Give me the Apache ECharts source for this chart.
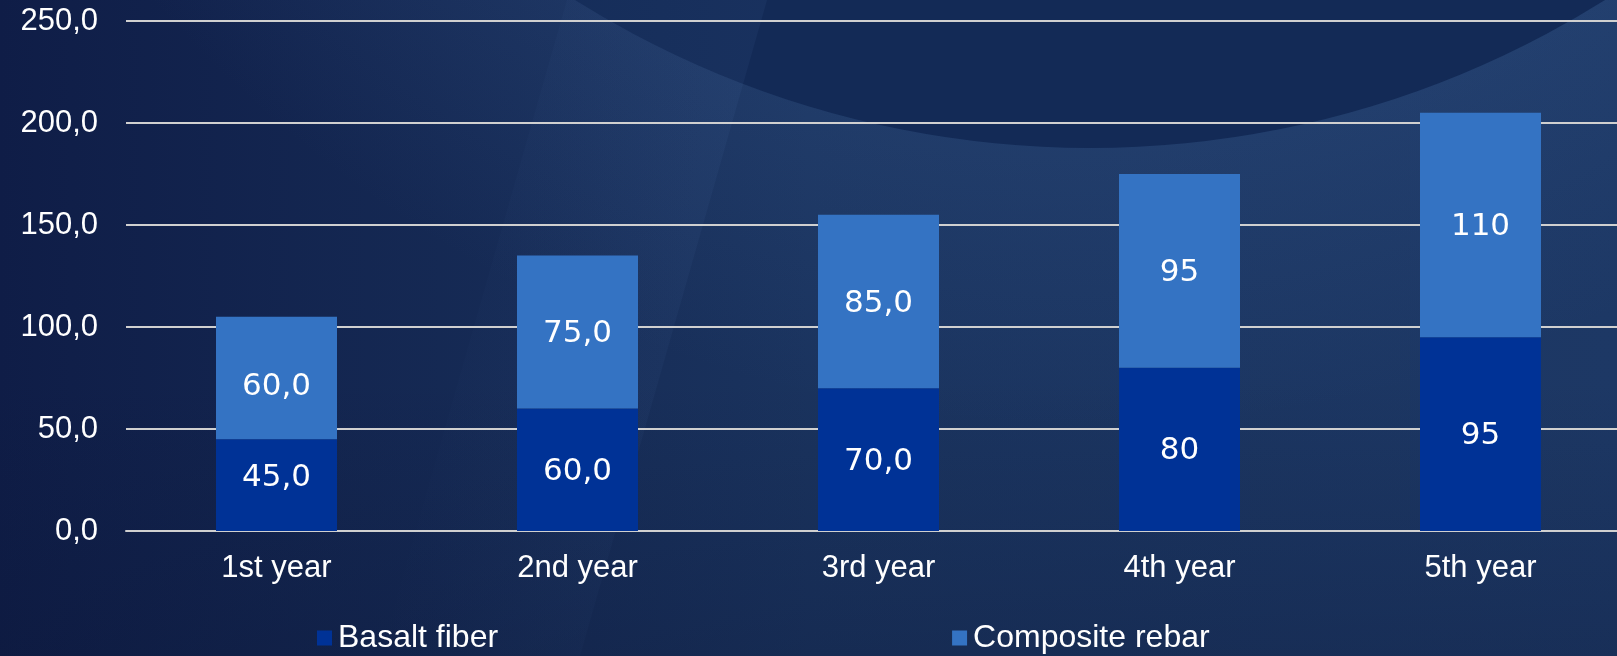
<!DOCTYPE html>
<html>
<head>
<meta charset="utf-8">
<script src="https://cdn.jsdelivr.net/npm/echarts@6/dist/echarts.min.js"></script>
<style>
html,body{margin:0;padding:0;background:#14294f;}
#chart{width:1617px;height:656px;}
</style>
</head>
<body>
<div id="chart"></div>
<script>
const categories = ["1st year", "2nd year", "3rd year", "4th year", "5th year"];
const basaltValues = [45, 60, 70, 80, 95];
const compositeValues = [60, 75, 85, 95, 110];
const basaltLabels = ["45,0", "60,0", "70,0", "80", "95"];
const compositeLabels = ["60,0", "75,0", "85,0", "95", "110"];
const seriesNames = ["Basalt fiber", "Composite rebar"];

const chart = echarts.init(document.getElementById('chart'), null, {renderer: 'canvas'});

const labelStyle = {
  show: true,
  position: 'inside',
  color: '#ffffff',
  fontFamily: 'DejaVu Sans',
  fontSize: 31,
  offset: [0, 2]
};

// the first column's labels sit slightly off-centre in the original
function buildData(values, firstOffsetY) {
  return values.map((v, i) => i === 0
    ? {value: v, label: {offset: [0, firstOffsetY]}}
    : v);
}

chart.setOption({
  animation: false,
  backgroundColor: {
    type: 'linear', x: 0, y: 0, x2: 1, y2: 0,
    colorStops: [
      {offset: 0, color: '#0f1d47'},
      {offset: 0.5, color: '#1a335e'},
      {offset: 1, color: '#1d3865'}
    ]
  },
  graphic: [
    {
      type: 'circle', z: -100, silent: true,
      shape: {cx: 1090, cy: -822, r: 1250},
      style: {
        fill: {
          type: 'radial', x: 0.5, y: 0.5, r: 0.5,
          colorStops: [
            {offset: 0, color: 'rgba(70,110,170,0.14)'},
            {offset: 0.776, color: 'rgba(70,110,170,0.14)'},
            {offset: 1, color: 'rgba(70,110,170,0)'}
          ]
        }
      }
    },
    {
      type: 'circle', z: -99, silent: true,
      shape: {cx: 1090, cy: -822, r: 970},
      style: {fill: '#132a56'}
    },
    {
      type: 'polygon', z: -98, silent: true,
      shape: {points: [[767, 0], [567, 0], [380, 656], [580, 656]]},
      style: {
        fill: {
          type: 'linear', x: 1, y: 0, x2: 0, y2: 0,
          colorStops: [
            {offset: 0, color: 'rgba(90,130,190,0.08)'},
            {offset: 1, color: 'rgba(90,130,190,0)'}
          ]
        }
      }
    },
    {
      type: 'rect', z: -97, silent: true,
      shape: {x: 0, y: 380, width: 1617, height: 276},
      style: {
        fill: {
          type: 'linear', x: 0, y: 0, x2: 0, y2: 1,
          colorStops: [
            {offset: 0, color: 'rgba(10,20,50,0)'},
            {offset: 1, color: 'rgba(10,20,50,0.25)'}
          ]
        }
      }
    }
  ],
  legend: {
    left: 312,
    top: 617,
    itemWidth: 15,
    itemHeight: 15,
    itemGap: 454,
    icon: 'rect',
    textStyle: {
      color: '#ffffff',
      fontFamily: 'Liberation Sans',
      fontSize: 32,
      padding: [0, 0, 0, 1]
    },
    data: seriesNames
  },
  grid: {
    left: 126,
    top: 21,
    width: 1505,
    height: 510,
    containLabel: false,
    outerBoundsMode: 'none'
  },
  xAxis: {
    type: 'category',
    data: categories,
    axisLine: {show: true, lineStyle: {color: '#d0d0d0', width: 2}},
    axisTick: {show: false},
    axisLabel: {
      color: '#ffffff',
      fontFamily: 'Liberation Sans',
      fontSize: 31,
      margin: 22
    }
  },
  yAxis: {
    type: 'value',
    min: 0,
    max: 250,
    interval: 50,
    axisLine: {show: false},
    axisTick: {show: false},
    splitLine: {lineStyle: {color: '#d0d0d0', width: 2}},
    axisLabel: {
      color: '#ffffff',
      fontFamily: 'Liberation Sans',
      fontSize: 31,
      margin: 28,
      formatter: v => v.toFixed(1).replace('.', ',')
    }
  },
  series: [
    {
      name: seriesNames[0],
      type: 'bar',
      stack: 'total',
      barWidth: 121,
      itemStyle: {color: '#003296'},
      label: Object.assign({}, labelStyle, {formatter: p => basaltLabels[p.dataIndex]}),
      data: buildData(basaltValues, -7)
    },
    {
      name: seriesNames[1],
      type: 'bar',
      stack: 'total',
      barWidth: 121,
      itemStyle: {color: '#3473c3'},
      label: Object.assign({}, labelStyle, {formatter: p => compositeLabels[p.dataIndex]}),
      data: buildData(compositeValues, 9)
    }
  ]
});
</script>
</body>
</html>
